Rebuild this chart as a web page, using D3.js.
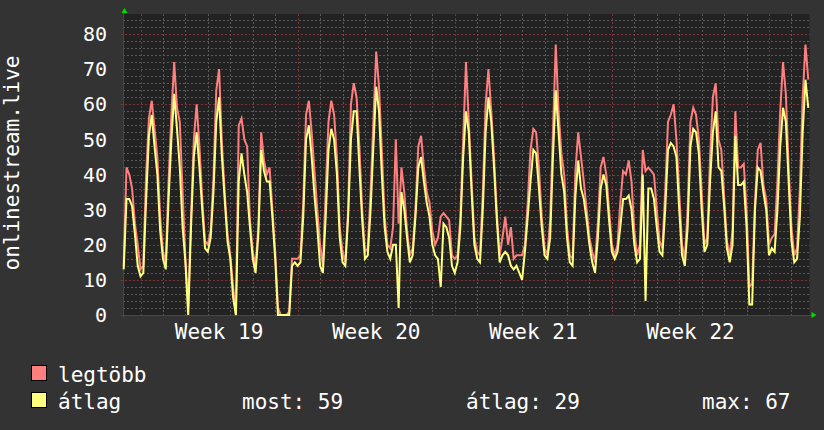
<!DOCTYPE html>
<html>
<head>
<meta charset="utf-8">
<script src="https://cdnjs.cloudflare.com/ajax/libs/d3/7.8.5/d3.min.js"></script>
<style>
  html, body { margin: 0; padding: 0; background: #333333; }
  svg { display: block; }
</style>
</head>
<body>
<div id="chart"></div>
<script>
// samples every 3 hours, first one Sunday 06:00 before week 19
const firstSample = Date.UTC(2021, 4, 9, 6, 0);
const stepHours = 3;
const viewStart = Date.UTC(2021, 4, 9, 5, 48);
const viewEnd = Date.UTC(2021, 5, 8, 19, 18);

// legtöbb (max)
const maxValues = [
  14, 42, 40, 36, 26, 20, 13, 14, 40, 56,
  61, 53, 45, 28, 18, 15, 38, 57, 72, 59,
  55, 35, 16, 2, 28, 50, 60, 48, 33, 21,
  20, 24, 39, 64, 70, 49, 35, 23, 17, 8,
  0, 54, 56, 50, 48, 27, 18, 14, 25, 52,
  44, 40, 42, 30, 18, 2, 0, 0, 0, 1,
  16, 16, 16, 17, 32, 57, 61, 52, 41, 30,
  20, 14, 35, 55, 61, 57, 45, 25, 18, 15,
  30, 60, 66, 62, 48, 30, 18, 19, 35, 55,
  75, 65, 47, 28, 20, 19, 25, 50, 26, 42,
  35, 24, 17, 19, 30, 48, 51, 42, 35, 32,
  24, 20, 22, 28, 29, 28, 27, 17, 16, 17,
  28, 50, 72, 55, 38, 22, 18, 17, 35, 60,
  70, 58, 45, 29, 17, 22, 28, 20, 25, 16,
  17, 17, 17, 20, 32, 47, 53, 52, 42, 28,
  19, 17, 27, 52, 77, 58, 46, 40, 25, 17,
  16, 41, 52, 45, 38, 30, 22, 18, 15, 26,
  42, 45, 40, 30, 20, 17, 20, 32, 41, 40,
  44, 38, 24, 17, 20, 47, 41, 42, 41, 40,
  30, 21, 19, 35, 55, 57, 60, 50, 35, 20,
  16, 30, 55, 59, 57, 50, 35, 20, 22, 45,
  62, 66, 50, 47, 34, 21, 17, 24, 58, 42,
  42, 43, 30, 8, 9, 32, 47, 49, 37, 33,
  20, 22, 23, 38, 58, 72, 63, 42, 25, 17,
  19, 36, 62, 77, 67
];

// átlag (average)
const avgValues = [
  13, 33, 33, 31, 23, 14, 11, 12, 33, 51,
  57, 48, 40, 24, 16, 13, 33, 50, 63, 53,
  42, 25, 15, 0, 25, 45, 52, 42, 30, 19,
  18, 22, 35, 55, 62, 45, 33, 21, 16, 5,
  0, 38, 46, 40, 35, 25, 16, 12, 23, 47,
  41, 38, 38, 28, 16, 0, 0, 0, 0, 0,
  14, 15, 14, 15, 28, 50, 54, 45, 34, 25,
  14, 12, 28, 47, 53, 50, 40, 22, 15, 14,
  28, 50, 58, 58, 42, 27, 16, 17, 30, 48,
  65, 58, 40, 25, 18, 16, 20, 20, 2, 35,
  30, 22, 15, 17, 28, 42, 45, 38, 32, 28,
  20, 17, 16, 8, 26, 25, 22, 14, 12, 15,
  25, 45, 58, 52, 35, 20, 16, 15, 30, 52,
  62, 55, 42, 27, 15, 17, 18, 17, 14, 13,
  14, 12, 10, 18, 28, 38, 47, 46, 36, 25,
  17, 16, 22, 45, 64, 52, 40, 35, 22, 15,
  14, 34, 44, 36, 33, 27, 20, 15, 12, 22,
  36, 40, 37, 27, 18, 16, 18, 25, 33, 33,
  34, 30, 20, 15, 16, 40, 4, 36, 36, 33,
  25, 18, 17, 30, 47, 49, 48, 45, 30, 17,
  14, 25, 48, 53, 52, 46, 30, 18, 20, 38,
  52, 58, 42, 41, 31, 19, 15, 20, 51, 37,
  37, 38, 25, 3, 3, 30, 42, 41, 35, 30,
  17, 19, 18, 30, 48, 59, 55, 38, 21, 15,
  16, 28, 52, 67, 59
];

const yTicks = [0, 10, 20, 30, 40, 50, 60, 70, 80];
const yMinorTicks = d3.range(0, 86, 2);
const seriesNames = ['legtöbb', 'átlag'];
const seriesColors = ['#ff7f7f', '#ffff80'];
const statLabels = ['most: 59', 'átlag: 29', 'max: 67'];
const yTitle = 'onlinestream.live';

const W = 824, H = 430;
const plot = { left: 123.5, right: 809.5, top: 14, bottom: 315 };
const font = 'DejaVu Sans Mono, monospace';

const svg = d3.select('#chart').append('svg')
  .attr('width', W)
  .attr('height', H);

svg.append('rect')
  .attr('width', W).attr('height', H)
  .attr('fill', '#333333');

svg.append('rect')
  .attr('x', plot.left).attr('y', plot.top)
  .attr('width', plot.right - plot.left)
  .attr('height', plot.bottom - plot.top)
  .attr('fill', '#222222');

const x = d3.scaleUtc()
  .domain([viewStart, viewEnd])
  .range([plot.left, plot.right]);

const y = d3.scaleLinear()
  .domain([0, 85.7])
  .range([plot.bottom, plot.top]);

// grid
const grid = svg.append('g').attr('shape-rendering', 'crispEdges');
const mondays = d3.utcMonday.range(new Date(viewStart), new Date(viewEnd));
const days = d3.utcDay.range(new Date(viewStart), new Date(viewEnd))
  .filter(d => d.getUTCDay() !== 1);

grid.selectAll('.vminor').data(days).enter().append('line')
  .attr('x1', d => Math.round(x(d)) + 0.5).attr('x2', d => Math.round(x(d)) + 0.5)
  .attr('y1', plot.top).attr('y2', plot.bottom + 1)
  .attr('stroke', '#5a5a5a').attr('stroke-dasharray', '2,2');

grid.selectAll('.hminor').data(yMinorTicks.filter(v => v % 10 !== 0)).enter().append('line')
  .attr('x1', plot.left - 1).attr('x2', plot.right)
  .attr('y1', d => Math.round(y(d)) + 0.5).attr('y2', d => Math.round(y(d)) + 0.5)
  .attr('stroke', '#5a5a5a').attr('stroke-dasharray', '2,2');

grid.selectAll('.vmajor').data(mondays).enter().append('line')
  .attr('x1', d => Math.round(x(d)) + 0.5).attr('x2', d => Math.round(x(d)) + 0.5)
  .attr('y1', plot.top).attr('y2', plot.bottom + 3)
  .attr('stroke', '#7d3434').attr('stroke-dasharray', '2,2');

grid.selectAll('.hmajor').data(yTicks.filter(v => v > 0)).enter().append('line')
  .attr('x1', plot.left - 3).attr('x2', plot.right)
  .attr('y1', d => Math.round(y(d)) + 0.5).attr('y2', d => Math.round(y(d)) + 0.5)
  .attr('stroke', '#7d3434').attr('stroke-dasharray', '2,2');

// axes
grid.append('line')
  .attr('x1', plot.left - 3).attr('x2', plot.right + 2)
  .attr('y1', plot.bottom + 0.5).attr('y2', plot.bottom + 0.5)
  .attr('stroke', '#484848');
grid.append('line')
  .attr('x1', plot.left - 0.5).attr('x2', plot.left - 0.5)
  .attr('y1', plot.top - 1).attr('y2', plot.bottom + 3)
  .attr('stroke', '#484848');

// arrows
svg.append('path')
  .attr('d', `M${plot.left + 1},8 L${plot.left - 2},13 L${plot.left + 4},13 Z`)
  .attr('fill', '#00dd00');
svg.append('path')
  .attr('d', `M${plot.right + 7},${plot.bottom} L${plot.right + 2},${plot.bottom - 3} L${plot.right + 2},${plot.bottom + 3} Z`)
  .attr('fill', '#00dd00');

// y labels
svg.append('g').selectAll('text').data(yTicks).enter().append('text')
  .attr('x', 107)
  .attr('y', d => y(d))
  .attr('dy', '0.36em')
  .attr('text-anchor', 'end')
  .attr('font-family', font)
  .attr('font-size', 20)
  .attr('fill', '#ffffff')
  .text(d => d);

// week labels centered mid-week
const weekFmt = d3.utcFormat('Week %V');
const labelWeeks = mondays.filter(d => x(d3.utcHour.offset(d, 84)) < plot.right);
svg.append('g').selectAll('text').data(labelWeeks).enter().append('text')
  .attr('x', d => x(d3.utcHour.offset(d, 84)))
  .attr('y', 339)
  .attr('text-anchor', 'middle')
  .attr('font-family', font)
  .attr('font-size', 21)
  .attr('fill', '#ffffff')
  .text(d => weekFmt(d));

svg.append('text')
  .attr('transform', 'translate(19,163) rotate(-90)')
  .attr('text-anchor', 'middle')
  .attr('font-family', font)
  .attr('font-size', 21)
  .attr('fill', '#ffffff')
  .text(yTitle);

// series
const line = d3.line()
  .x((d, i) => x(firstSample + i * stepHours * 3600000))
  .y(d => y(d));

[maxValues, avgValues].forEach((vals, s) => {
  svg.append('path')
    .datum(vals)
    .attr('d', line)
    .attr('fill', 'none')
    .attr('stroke', seriesColors[s])
    .attr('stroke-width', 2)
    .attr('stroke-linejoin', 'miter');
});

// legend
const legend = svg.append('g');
seriesNames.forEach((name, i) => {
  const ly = 365.5 + i * 27;
  legend.append('rect')
    .attr('x', 31.5).attr('y', ly)
    .attr('width', 15).attr('height', 15)
    .attr('fill', seriesColors[i])
    .attr('stroke', '#000000');
  legend.append('text')
    .attr('x', 58).attr('y', ly + 16)
    .attr('font-family', font)
    .attr('font-size', 21)
    .attr('fill', '#ffffff')
    .text(name);
});

const statX = [242, 466, 702];
statLabels.forEach((t, i) => {
  legend.append('text')
    .attr('x', statX[i]).attr('y', 408.5)
    .attr('font-family', font)
    .attr('font-size', 21)
    .attr('fill', '#ffffff')
    .text(t);
});
</script>
</body>
</html>
